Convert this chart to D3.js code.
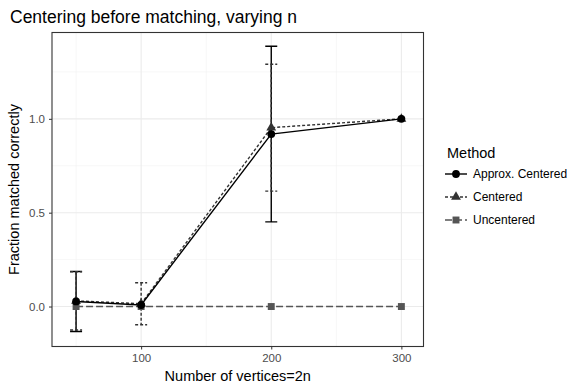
<!DOCTYPE html>
<html lang="en">
<head>
<meta charset="UTF-8">
<title>Centering before matching</title>
<script src="https://d3js.org/d3.v7.min.js"></script>
<style>
  body { margin: 0; background: #fff; }
  text { font-family: "Liberation Sans", Arial, sans-serif; }
</style>
</head>
<body>
<div id="chart"></div>
<script>
// data
var nValues = [50, 100, 200, 300];
var methods = ["Approx. Centered", "Centered", "Uncentered"];
var approxMean = [0.027, 0.008, 0.919, 1.0];
var approxSd   = [0.16, 0.0, 0.468, 0.0];
var centeredMean = [0.03, 0.015, 0.953, 1.0];
var centeredSd   = [0.155, 0.112, 0.338, 0.0];
var uncenteredMean = [0, 0, 0, 0];
var uncenteredSd   = [0, 0, 0, 0];
var xTicks = [100, 200, 300];
var yTicks = [0, 0.5, 1.0];

var W = 581, H = 388;
var margin = {top: 32.5, right: 157.5, bottom: 41.5, left: 52};
var pw = W - margin.left - margin.right,
    ph = H - margin.top - margin.bottom;

var series = [
  {name: methods[0], mean: approxMean, sd: approxSd, color: "#000000", dash: null, shape: d3.symbolCircle},
  {name: methods[1], mean: centeredMean, sd: centeredSd, color: "#333333", dash: "3,2", shape: d3.symbolTriangle},
  {name: methods[2], mean: uncenteredMean, sd: uncenteredSd, color: "#555555", dash: "7,3", shape: d3.symbolSquare}
];

var svg = d3.select("#chart").append("svg")
    .attr("width", W).attr("height", H);

var x = d3.scaleLinear().domain([31.5, 317]).range([0, pw]);
var y = d3.scaleLinear().domain([-0.213, 1.46]).range([ph, 0]);

var g = svg.append("g")
    .attr("transform", "translate(" + margin.left + "," + margin.top + ")");

// grid
var minorX = [50, 150, 250], minorY = [-0.25, 0.25, 0.75, 1.25];
g.selectAll(".gminx").data(minorX).enter().append("line")
    .attr("x1", d => x(d)).attr("x2", d => x(d)).attr("y1", 0).attr("y2", ph)
    .attr("stroke", "#f2f2f2").attr("stroke-width", 0.6);
g.selectAll(".gminy").data(minorY.filter(v => v > y.domain()[0])).enter().append("line")
    .attr("y1", d => y(d)).attr("y2", d => y(d)).attr("x1", 0).attr("x2", pw)
    .attr("stroke", "#f2f2f2").attr("stroke-width", 0.6);
g.selectAll(".gx").data(xTicks).enter().append("line")
    .attr("x1", d => x(d)).attr("x2", d => x(d)).attr("y1", 0).attr("y2", ph)
    .attr("stroke", "#ebebeb").attr("stroke-width", 1.1);
g.selectAll(".gy").data(yTicks).enter().append("line")
    .attr("y1", d => y(d)).attr("y2", d => y(d)).attr("x1", 0).attr("x2", pw)
    .attr("stroke", "#ebebeb").attr("stroke-width", 1.1);

// axes
var xAxis = g.append("g").attr("transform", "translate(0," + ph + ")")
    .call(d3.axisBottom(x).tickValues(xTicks).tickFormat(d3.format("d")).tickSize(3).tickPadding(4));
var yAxis = g.append("g")
    .call(d3.axisLeft(y).tickValues(yTicks).tickFormat(d3.format(".1f")).tickSize(3).tickPadding(4));
[xAxis, yAxis].forEach(function(a) {
  a.select(".domain").remove();
  a.selectAll("line").attr("stroke", "#333333");
  a.selectAll("text").attr("fill", "#4d4d4d").style("font-size", "11.5px")
    .style("font-family", "Liberation Sans, Arial, sans-serif");
});

// error bars
var capHalf = 6;
series.forEach(function(s) {
  var eb = g.append("g");
  nValues.forEach(function(n, i) {
    if (s.sd[i] <= 0) return;
    var lo = s.mean[i] - s.sd[i], hi = s.mean[i] + s.sd[i];
    var p = eb.append("path")
      .attr("d", "M" + (x(n) - capHalf) + "," + y(hi) + "H" + (x(n) + capHalf) +
                 "M" + x(n) + "," + y(hi) + "V" + y(lo) +
                 "M" + (x(n) - capHalf) + "," + y(lo) + "H" + (x(n) + capHalf))
      .attr("fill", "none").attr("stroke", s.color).attr("stroke-width", 1.4);
    if (s.dash) p.attr("stroke-dasharray", s.dash);
  });
});

// lines and points
var line = d3.line().x((d, i) => x(nValues[i])).y(d => y(d));
series.slice().reverse().forEach(function(s) {
  var l = g.append("path").datum(s.mean)
    .attr("d", line).attr("fill", "none")
    .attr("stroke", s.color).attr("stroke-width", 1.4);
  if (s.dash) l.attr("stroke-dasharray", s.dash);
});
series.slice().reverse().forEach(function(s) {
  g.selectAll(null).data(s.mean).enter().append("path")
    .attr("transform", (d, i) => "translate(" + x(nValues[i]) + "," + y(d) + ")")
    .attr("d", d3.symbol().type(s.shape).size(s.shape === d3.symbolTriangle ? 42 : 48))
    .attr("fill", s.color);
});

// panel border
g.append("rect").attr("width", pw).attr("height", ph)
    .attr("fill", "none").attr("stroke", "#333333").attr("stroke-width", 1.1);

// titles
svg.append("text").attr("x", 10).attr("y", 23)
    .style("font-size", "17.5px").attr("fill", "#000")
    .text("Centering before matching, varying n");
svg.append("text").attr("x", margin.left + pw / 2).attr("y", 381)
    .attr("text-anchor", "middle").style("font-size", "14.5px")
    .text("Number of vertices=2n");
svg.append("text")
    .attr("transform", "translate(19," + (margin.top + ph / 2) + ") rotate(-90)")
    .attr("text-anchor", "middle").style("font-size", "14.5px")
    .text("Fraction matched correctly");

// legend
var lg = svg.append("g").attr("transform", "translate(445,0)");
lg.append("text").attr("x", 2).attr("y", 158).style("font-size", "14.5px").text("Method");
series.forEach(function(s, i) {
  var cy = 174 + i * 23;
  var ln = lg.append("line").attr("x1", 0).attr("x2", 22).attr("y1", cy).attr("y2", cy)
    .attr("stroke", s.color).attr("stroke-width", 1.4);
  if (s.dash) ln.attr("stroke-dasharray", s.dash);
  lg.append("path").attr("transform", "translate(11," + cy + ")")
    .attr("d", d3.symbol().type(s.shape).size(s.shape === d3.symbolTriangle ? 42 : 48))
    .attr("fill", s.color);
  lg.append("text").attr("x", 28).attr("y", cy + 4).style("font-size", "12px")
    .text(s.name);
});
</script>
</body>
</html>
